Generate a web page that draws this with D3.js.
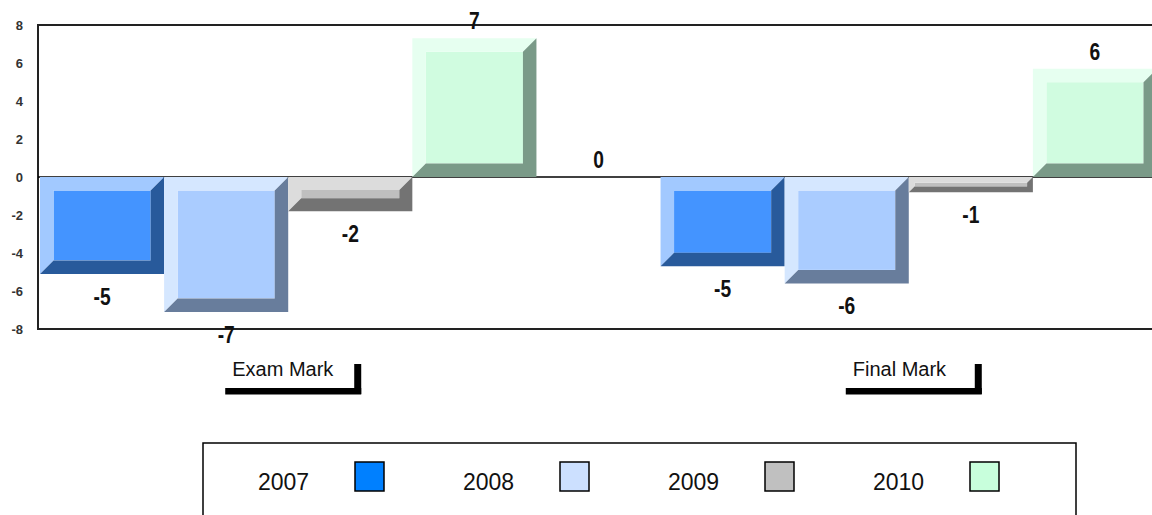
<!DOCTYPE html>
<html>
<head>
<meta charset="utf-8">
<script src="https://cdn.jsdelivr.net/npm/d3@7"></script>
<style>
  body { margin: 0; background: #fff; }
  svg { display: block; }
  .val { font-family: "Liberation Sans", Arial, sans-serif; font-weight: bold; font-size: 24px; fill: #111; }
  .ytick { font-family: "Liberation Sans", Arial, sans-serif; font-weight: bold; font-size: 13px; fill: #333; }
  .cat, .leg { font-family: "Liberation Sans", Arial, sans-serif; fill: #111; }
</style>
</head>
<body>
<div id="chart"></div>
<script>
// values (labels are rounded)
const categories = ["Exam Mark", "Final Mark"];
const seriesNames = ["2007", "2008", "2009", "2010"];
const examMark = [-5.1, -7.1, -1.8, 7.3];
const finalMark = [-4.7, -5.6, -0.8, 5.7];
const gapValue = [0];
const yTicks = [-8, -6, -4, -2, 0, 2, 4, 6, 8];

const faceColors = ["#4494ff", "#aaccff", "#bfbfbf", "#d0fce0"];
const lightColors = ["#a2c9ff", "#d5e7ff", "#dcdcdc", "#e6fff0"];
const darkColors = ["#285a9b", "#687d9c", "#737373", "#7a9a88"];
const legendColors = ["#0080ff", "#cce0ff", "#c0c0c0", "#c8ffdc"];

const W = 1152, H = 515;
const svg = d3.select("#chart").append("svg").attr("width", W).attr("height", H);

const y = d3.scaleLinear().domain([-8, 8]).range([329, 25]);
const x0 = d3.scaleBand().domain(categories).range([40, 1157]).paddingInner(0.2).paddingOuter(0);
const x1 = d3.scaleBand().domain(seriesNames).range([0, x0.bandwidth()]);

const rows = categories.map((c, i) => ({ cat: c, values: [examMark, finalMark][i] }));
const bars = rows.flatMap(r => r.values.map((v, j) => ({ cat: r.cat, s: seriesNames[j], j, v })));

// frame
svg.append("rect").attr("x", 38).attr("y", 25).attr("width", 1200).attr("height", 304)
  .attr("fill", "none").attr("stroke", "#222").attr("stroke-width", 2);

// zero line
svg.append("line").attr("x1", 38).attr("x2", W).attr("y1", y(0)).attr("y2", y(0))
  .attr("stroke", "#000").attr("stroke-width", 1.5);

// y tick labels
svg.selectAll(".ytick").data(yTicks).join("text")
  .attr("class", "ytick")
  .attr("x", 23).attr("y", d => y(d) + 4.5)
  .attr("text-anchor", "end")
  .text(d => d);

// bevelled bars
const g = svg.selectAll(".bar").data(bars).join("g").attr("class", "bar");
g.each(function(d) {
  const sel = d3.select(this);
  const xa = x0(d.cat) + x1(d.s), xb = xa + x1.bandwidth();
  const ya = Math.min(y(0), y(d.v)), yb = Math.max(y(0), y(d.v));
  const b = Math.min(13.5, (yb - ya) * 0.38);
  sel.append("rect").attr("x", xa + b).attr("y", ya + b)
    .attr("width", xb - xa - 2 * b).attr("height", yb - ya - 2 * b)
    .attr("fill", faceColors[d.j]);
  sel.append("polygon").attr("fill", lightColors[d.j])
    .attr("points", [[xa, ya], [xb, ya], [xb - b, ya + b], [xa + b, ya + b], [xa + b, yb - b], [xa, yb]].join(" "));
  sel.append("polygon").attr("fill", darkColors[d.j])
    .attr("points", [[xb, ya], [xb, yb], [xa, yb], [xa + b, yb - b], [xb - b, yb - b], [xb - b, ya + b]].join(" "));
});

// value labels (narrow look: squeezed horizontally)
const fmt = v => String(Math.round(v));
svg.selectAll(".val").data(bars).join("text")
  .attr("class", "val")
  .attr("transform", d => `translate(${x0(d.cat) + x1(d.s) + x1.bandwidth() / 2},${d.v >= 0 ? y(d.v) - 9 : y(d.v) + 31}) scale(0.8,1)`)
  .attr("text-anchor", "middle")
  .text(d => fmt(d.v));

// label in the gap between the two groups
const gapX = (x0(categories[0]) + x0.bandwidth() + x0(categories[1])) / 2;
svg.selectAll(".gap").data(gapValue).join("text")
  .attr("class", "val gap")
  .attr("transform", d => `translate(${gapX},${y(d) - 9}) scale(0.8,1)`)
  .attr("text-anchor", "middle")
  .text(d => fmt(d));

// category labels with bracket
categories.forEach(c => {
  const cx = x0(c) + x0.bandwidth() / 2;
  const left = cx - 63, right = cx + 73;
  svg.append("text").attr("class", "cat")
    .attr("x", left + 7).attr("y", 376)
    .attr("font-size", 20)
    .text(c);
  svg.append("rect").attr("x", left).attr("y", 388).attr("width", right - left).attr("height", 6.5).attr("fill", "#000");
  svg.append("rect").attr("x", right - 7).attr("y", 364).attr("width", 7).attr("height", 30).attr("fill", "#000");
});

// legend
svg.append("rect").attr("x", 203).attr("y", 443).attr("width", 873).attr("height", 100)
  .attr("fill", "none").attr("stroke", "#000").attr("stroke-width", 1.5);
const lx = d3.scaleBand().domain(seriesNames).range([258, 258 + 4 * 205]);
const li = svg.selectAll(".legitem").data(seriesNames).join("g").attr("class", "legitem");
li.append("text").attr("class", "leg")
  .attr("x", d => lx(d)).attr("y", 490)
  .attr("font-size", 23)
  .text(d => d);
li.append("rect")
  .attr("x", (d, i) => lx(d) + 97).attr("y", 462)
  .attr("width", 29).attr("height", 29)
  .attr("fill", (d, i) => legendColors[i])
  .attr("stroke", "#000").attr("stroke-width", 1.5);
</script>
</body>
</html>
